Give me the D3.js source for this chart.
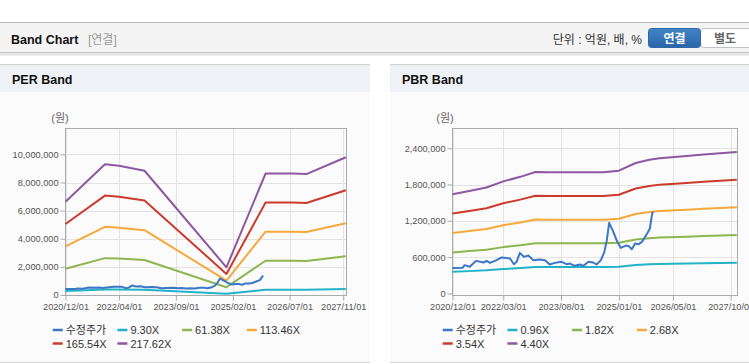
<!DOCTYPE html>
<html><head><meta charset="utf-8">
<script src="https://cdn.jsdelivr.net/npm/d3@7"></script>
<style>
html,body{margin:0;padding:0;background:#fff;}
svg{display:block;font-family:"Liberation Sans",Arial,"Noto Sans CJK KR",sans-serif;}
</style></head><body>
<svg id="c" width="749" height="364"></svg>
<script>
// ---------- DATA ----------
const priceName = "수정주가";
const priceDates = ["2020-12-01","2021-03-01","2021-03-20","2021-05-05","2021-06-30","2021-09-05","2021-10-03","2021-11-03","2021-12-31","2022-02-15","2022-05-01","2022-06-05","2022-06-29","2022-07-28","2022-09-03","2022-10-12","2022-11-25","2023-01-25","2023-03-10","2023-04-22","2023-06-06","2023-08-06","2023-09-21","2023-10-21","2023-12-03","2024-01-18","2024-02-18","2024-04-03","2024-05-15","2024-06-15","2024-07-24","2024-08-24","2024-09-15","2024-10-06","2024-11-06","2024-12-18","2025-01-18","2025-02-27","2025-03-28","2025-04-27","2025-05-27","2025-06-27","2025-07-27","2025-09-12","2025-10-06","2025-10-27","2025-11-05"];
const priceValues = [423000,425000,468000,441000,539000,512000,539000,505000,551000,595000,578000,484000,523000,671000,605000,627000,551000,561000,551000,479000,506000,523000,484000,495000,457000,479000,457000,523000,512000,479000,551000,688000,881000,1167000,1046000,853000,754000,787000,787000,732000,826000,815000,853000,992000,1074000,1322000,1350000];

// PER band
const perNames = ["9.30X","61.38X","113.46X","165.54X","217.62X"];
const perDates = ["2020-12-01","2021-11-25","2022-04-01","2022-11-20","2024-12-04","2025-11-25","2026-08-01","2026-12-01","2027-11-25"];
const per930   = [283700,397100,392500,377600,84200,369200,369200,367400,418500];
const per6138  = [1872100,2620900,2590200,2492000,555500,2436800,2436800,2424500,2762100];
const per11346 = [3460500,4844700,4788000,4606500,1026800,4504400,4504400,4481700,5105700];
const per16554 = [5049000,7068600,6985800,6720900,1498100,6571900,6571900,6538800,7449300];
const per21762 = [6637400,9292400,9183600,8835400,1969500,8639500,8639500,8596000,9792900];
const perYTicks = [0,2000000,4000000,6000000,8000000,10000000];
const perXTicks = ["2020-12-01","2022-04-01","2023-09-01","2025-02-01","2026-07-01","2027-11-01"];

// PBR band
const pbrNames = ["0.96X","1.82X","2.68X","3.54X","4.40X"];
const pbrDates = ["2020-12-01","2021-05-01","2021-10-01","2022-03-01","2022-08-01","2022-12-15","2023-04-01","2024-08-15","2025-01-01","2025-06-01","2025-10-01","2026-01-01","2026-09-01","2027-02-01","2027-11-25"];
const pbr096 = [358100,369600,382100,404200,420500,437800,436800,436800,442600,470400,481900,487700,495400,501100,509800];
const pbr182 = [678900,700700,724400,766200,797200,829900,828100,828100,839000,891800,913600,924600,939100,950000,966400];
const pbr268 = [999600,1031800,1066600,1128300,1173800,1222100,1219400,1219400,1235500,1313200,1345400,1361400,1382900,1399000,1423100];
const pbr354 = [1320400,1362900,1408900,1490300,1550500,1614200,1610700,1610700,1631900,1734600,1777100,1798300,1826600,1847900,1879700];
const pbr440 = [1641200,1694000,1751200,1852400,1927200,2006400,2002000,2002000,2028400,2156000,2208800,2235200,2270400,2296800,2336400];
const pbrYTicks = [0,600000,1200000,1800000,2400000];
const pbrXTicks = ["2020-12-01","2022-03-01","2023-08-01","2025-01-01","2026-05-01","2027-10-01"];

const colors = ["#3b77c6","#22b3c8","#8db651","#f5a93c","#cc3a2d","#8f57a1"];

// ---------- DRAW ----------
const svg = d3.select("#c");
const parse = d3.timeParse("%Y-%m-%d");
const fmtTick = d3.timeFormat("%Y/%m/%d");

// top bar
svg.append("rect").attr("x",0).attr("y",22).attr("width",749).attr("height",31).attr("fill","#f4f4f4");
svg.append("line").attr("x1",0).attr("x2",749).attr("y1",22.5).attr("y2",22.5).attr("stroke","#b9b9b9");
svg.append("line").attr("x1",0).attr("x2",749).attr("y1",52.5).attr("y2",52.5).attr("stroke","#c4c4c4");
svg.append("rect").attr("x",0).attr("y",53).attr("width",749).attr("height",2).attr("fill","#e6e6e6");
svg.append("rect").attr("x",0).attr("y",55).attr("width",749).attr("height",1).attr("fill","#f2f2f2");
svg.append("text").attr("x",11).attr("y",43.5).attr("font-size",12.5).attr("font-weight","bold").attr("fill","#111").text("Band Chart");
svg.append("text").attr("x",88).attr("y",43.5).attr("font-size",12).attr("fill","#999").text("[연결]");
svg.append("text").attr("x",642).attr("y",43.5).attr("text-anchor","end").attr("font-size",12).attr("fill","#333").text("단위 : 억원, 배, %");
const grad = svg.append("defs").append("linearGradient").attr("id","bg1").attr("x1",0).attr("x2",0).attr("y1",0).attr("y2",1);
grad.append("stop").attr("offset","0").attr("stop-color","#4284c8");
grad.append("stop").attr("offset","1").attr("stop-color","#2a66a8");
svg.append("rect").attr("x",700.5).attr("y",28.5).attr("width",52).attr("height",19).attr("rx",3).attr("fill","#fff").attr("stroke","#c2c2c2");
svg.append("rect").attr("x",648.5).attr("y",28.5).attr("width",52).attr("height",19).attr("rx",3).attr("fill","url(#bg1)").attr("stroke","#2d68a8");
svg.append("text").attr("x",674.5).attr("y",42.5).attr("text-anchor","middle").attr("font-size",12).attr("font-weight","bold").attr("fill","#fff").text("연결");
svg.append("text").attr("x",725).attr("y",42.5).attr("text-anchor","middle").attr("font-size",12).attr("font-weight","bold").attr("fill","#666").text("별도");

// panels
[[0,370,"PER Band"],[390,749,"PBR Band"]].forEach(([x0,x1,title])=>{
  svg.append("rect").attr("x",x0).attr("y",64).attr("width",x1-x0).attr("height",28).attr("fill","#eef1f6");
  svg.append("line").attr("x1",x0).attr("x2",x1).attr("y1",64.5).attr("y2",64.5).attr("stroke","#d2d2d2");
  svg.append("rect").attr("x",x0).attr("y",92).attr("width",x1-x0).attr("height",270).attr("fill","#fbfbfb");
  svg.append("line").attr("x1",x0).attr("x2",x1).attr("y1",362.5).attr("y2",362.5).attr("stroke","#d8d8d8");
  svg.append("text").attr("x",x0+12).attr("y",83.5).attr("font-size",12.5).attr("font-weight","bold").attr("fill","#111").text(title);
});

function drawChart(cfg){
  const x = d3.scaleTime().domain([parse("2020-12-01"), parse("2027-12-01")]).range([cfg.left, cfg.right]);
  const y = d3.scaleLinear().domain([0, cfg.ymax]).range([cfg.y0, cfg.top]);
  const g = svg.append("g");
  const bottom = 295.5;
  // grid
  g.selectAll(".vg").data(cfg.xTicks).join("line")
    .attr("x1",d=>Math.round(x(parse(d)))+0.5).attr("x2",d=>Math.round(x(parse(d)))+0.5)
    .attr("y1",cfg.top).attr("y2",bottom).attr("stroke","#e3e3e3");
  g.selectAll(".hg").data(cfg.yTicks.slice(1)).join("line")
    .attr("x1",cfg.left).attr("x2",cfg.right)
    .attr("y1",d=>Math.round(y(d))+0.5).attr("y2",d=>Math.round(y(d))+0.5).attr("stroke","#e3e3e3");
  // frame
  g.append("rect").attr("x",cfg.left).attr("y",cfg.top).attr("width",cfg.right-cfg.left).attr("height",bottom-cfg.top)
    .attr("fill","none").attr("stroke","#ababab");
  // y axis
  const ya = g.append("g").attr("transform",`translate(${cfg.left},0)`)
    .call(d3.axisLeft(y).tickValues(cfg.yTicks).tickSize(5).tickPadding(2).tickFormat(d3.format(",")));
  ya.select(".domain").remove();
  ya.selectAll("line").attr("stroke","#ababab");
  ya.selectAll("text").attr("font-size",9.2).attr("fill","#555").attr("font-family","'Liberation Sans',Arial,sans-serif");
  // x axis
  const xa = g.append("g").attr("transform",`translate(0,${bottom})`)
    .call(d3.axisBottom(x).tickValues(cfg.xTicks.map(parse)).tickSize(5).tickPadding(3).tickFormat(fmtTick));
  xa.select(".domain").remove();
  xa.selectAll("line").attr("stroke","#ababab");
  xa.selectAll("text").attr("font-size",9.2).attr("fill","#555").attr("font-family","'Liberation Sans',Arial,sans-serif");
  // unit label
  g.append("text").attr("x",cfg.unitX).attr("y",122).attr("text-anchor","middle").attr("font-size",11).attr("fill","#666").text("(원)");
  // lines
  const line = d3.line().x(d=>x(d[0])).y(d=>y(d[1]));
  cfg.bands.forEach((vals,i)=>{
    g.append("path").datum(cfg.dates.map((d,j)=>[parse(d),vals[j]]))
      .attr("d",line).attr("fill","none").attr("stroke",colors[i+1]).attr("stroke-width",2).attr("stroke-linejoin","round");
  });
  g.append("path").datum(priceDates.map((d,j)=>[parse(d),priceValues[j]]))
    .attr("d",line).attr("fill","none").attr("stroke",colors[0]).attr("stroke-width",2).attr("stroke-linejoin","round");
  // legend
  const names = [priceName].concat(cfg.names);
  names.forEach((n,i)=>{
    const col = i<4 ? i : i-4;
    const row = i<4 ? 0 : 1;
    const lx = cfg.legX + col*64.7;
    const ly = row===0 ? 330 : 343.5;
    g.append("line").attr("x1",lx).attr("x2",lx+10).attr("y1",ly).attr("y2",ly).attr("stroke",colors[i]).attr("stroke-width",2.5);
    g.append("text").attr("x",lx+13).attr("y",ly+4).attr("font-size",11).attr("fill","#333").text(n);
  });
}

drawChart({left:65.5,right:346.5,top:128.5,y0:295,ymax:11840000,yTicks:perYTicks,xTicks:perXTicks,
  dates:perDates,bands:[per930,per6138,per11346,per16554,per21762],names:perNames,legX:52.7,unitX:60});
drawChart({left:452.5,right:737.5,top:128.5,y0:293.5,ymax:2725500,yTicks:pbrYTicks,xTicks:pbrXTicks,
  dates:pbrDates,bands:[pbr096,pbr182,pbr268,pbr354,pbr440],names:pbrNames,legX:442.7,unitX:445});
</script>
</body></html>
